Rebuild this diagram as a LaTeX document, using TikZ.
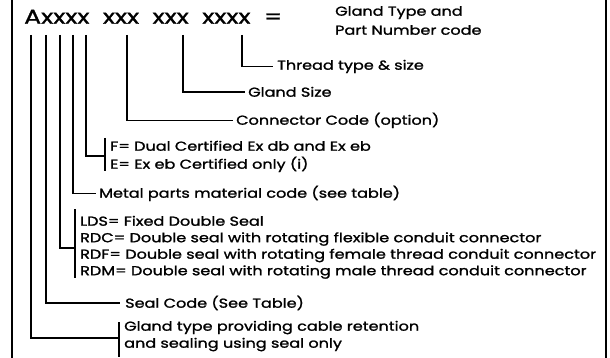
\documentclass[tikz,border=0pt]{standalone}
\usepackage{fontspec}
\setmainfont{Poppins}[FakeStretch=1.26,FakeBold=1.3]
\newfontfamily\lblfont{Poppins}[FakeStretch=1.235,FakeBold=1.4]
\begin{document}
\begin{tikzpicture}[x=1pt,y=-1pt,
  lbl/.style={anchor=mid west,inner sep=0pt,font=\lblfont\fontsize{13}{13}\selectfont},
  big/.style={anchor=mid west,inner sep=0pt,font=\fontsize{20}{20}\selectfont},
  ln/.style={line width=1.3pt},
  frame/.style={line width=2pt}]
\useasboundingbox (0,0) rectangle (610,358);
\draw[frame] (12,-2) -- (12,360);
\draw[frame] (606,-2) -- (606,360);
% title
\node[big] (code) at (24,21) {Axxxx\ \ xxx\ \ xxx\ \ xxxx\ \ =};
\node[lbl] (gt1) at (335,13) {Gland Type and};
\node[lbl] (gt2) at (335,32) {Part Number code};
% labels
\node[lbl] (thr) at (277,67) {Thread type \& size};
\node[lbl] (gsz) at (248,94) {Gland Size};
\node[lbl] (con) at (236,122) {Connector Code (option)};
\node[lbl] (f) at (110,148) {F= Dual Certified Ex db and Ex eb};
\node[lbl] (e) at (110,166) {E= Ex eb Certified only (i)};
\node[lbl] (met) at (99,195) {Metal parts material code (see table)};
\node[lbl] (lds) at (80,223) {LDS= Fixed Double Seal};
\node[lbl] (rdc) at (80,239.5) {RDC= Double seal with rotating flexible conduit connector};
\node[lbl] (rdf) at (80,256) {RDF= Double seal with rotating female thread conduit connector};
\node[lbl] (rdm) at (80,272.5) {RDM= Double seal with rotating male thread conduit connector};
\node[lbl] (seal) at (125,305) {Seal Code (See Table)};
\node[lbl] (gl1) at (124,328) {Gland type providing cable retention};
\node[lbl] (gl2) at (124,345) {and sealing using seal only};
% coordinates
\foreach \n/\x in {a/31,b/46,c/60,d/73,e/86,f/127,g/183,h/242}
  \coordinate (top\n) at (\x,35);
\coordinate (brFt) at (105,138); \coordinate (brFb) at (105,171);
\coordinate (brLt) at (75,209); \coordinate (brLb) at (75,278);
\coordinate (brGt) at (119,322); \coordinate (brGb) at (119,357);
% leaders
\draw[ln] (toph) |- ([xshift=-4pt]thr.west);
\draw[ln] (topg) |- ([xshift=-3pt]gsz.west);
\draw[ln] (topf) |- ([xshift=-3pt]con.west);
\draw[ln] (tope) |- (105,156);
\draw[ln] (brFt) -- (brFb);
\draw[ln] (topd) |- ([xshift=-3pt]met.west);
\draw[ln] (topc) |- (75,248);
\draw[ln] (brLt) -- (brLb);
\draw[ln] (topb) |- ([xshift=-5pt]seal.west);
\draw[ln] (topa) |- (119,338);
\draw[ln] (brGt) -- (brGb);
\end{tikzpicture}
\end{document}
